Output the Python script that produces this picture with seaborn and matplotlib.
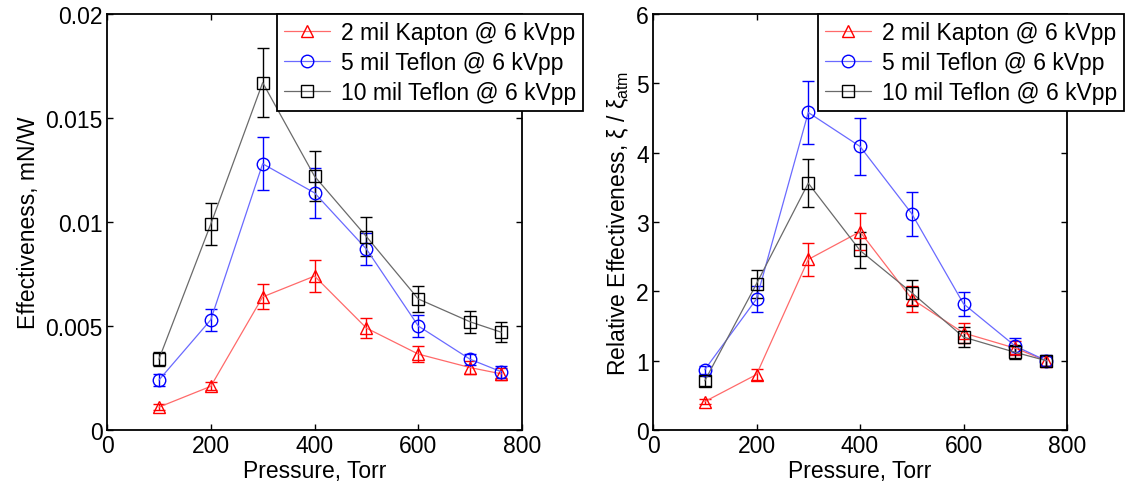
import numpy as np
import matplotlib
matplotlib.use("Agg")
import matplotlib.pyplot as plt
import seaborn as sns

pressure = [100, 200, 300, 400, 500, 600, 700, 760]
labels = ["2 mil Kapton @ 6 kVpp", "5 mil Teflon @ 6 kVpp", "10 mil Teflon @ 6 kVpp"]

# effectiveness, mN/W
kapton_eff = [0.0011, 0.0021, 0.0064, 0.0074, 0.0049, 0.00365, 0.0030, 0.0027]
kapton_err = [0.00015, 0.0002, 0.0006, 0.00075, 0.0005, 0.0004, 0.0003, 0.0003]
teflon5_eff = [0.0024, 0.0053, 0.0128, 0.0114, 0.0087, 0.0050, 0.0034, 0.0028]
teflon5_err = [0.0003, 0.00054, 0.00127, 0.0012, 0.00078, 0.00054, 0.00027, 0.00028]
teflon10_eff = [0.0034, 0.0099, 0.0167, 0.0122, 0.0093, 0.0063, 0.0052, 0.0047]
teflon10_err = [0.00034, 0.001, 0.00167, 0.0012, 0.00092, 0.00063, 0.00052, 0.00048]

# relative effectiveness
kapton_rel = [0.41, 0.80, 2.46, 2.86, 1.89, 1.40, 1.18, 1.0]
kapton_rel_err = [0.04, 0.08, 0.24, 0.27, 0.19, 0.14, 0.1, 0.07]
teflon5_rel = [0.87, 1.89, 4.58, 4.09, 3.12, 1.82, 1.21, 1.0]
teflon5_rel_err = [0.06, 0.19, 0.46, 0.41, 0.32, 0.17, 0.11, 0.08]
teflon10_rel = [0.71, 2.11, 3.56, 2.59, 1.98, 1.34, 1.12, 1.0]
teflon10_rel_err = [0.07, 0.2, 0.35, 0.26, 0.19, 0.14, 0.1, 0.07]

left_yticks = [0, 0.005, 0.01, 0.015, 0.02]
left_yticklabels = ["0", "0.005", "0.01", "0.015", "0.02"]
right_yticks = [0, 1, 2, 3, 4, 5, 6]
xticks = [0, 200, 400, 600, 800]

colors = ["#ff0000", "#0000ff", "#000000"]
line_colors = ["#ff6a6a", "#6a6aff", "#6a6a6a"]
markers = ["^", "o", "s"]

sns.set_style("ticks")
plt.rcParams["font.family"] = ["Liberation Sans", "DejaVu Sans"]
plt.rcParams["mathtext.fontset"] = "custom"
plt.rcParams["mathtext.rm"] = "Liberation Sans"
plt.rcParams["mathtext.it"] = "Liberation Sans:italic"
for key in ["text.color", "axes.labelcolor", "xtick.color", "ytick.color",
            "axes.edgecolor"]:
    plt.rcParams[key] = "black"
fs = 16.5

fig = plt.figure(figsize=(11.29, 4.89), dpi=100)
ax1 = fig.add_axes([0.0948, 0.1186, 0.3676, 0.8507])
ax2 = fig.add_axes([0.5784, 0.1186, 0.3667, 0.8507])


def draw(ax, series, errs, ymax, yticks, yticklabels, ylabel, leg_x):
    for vals, err, c, lc, m, lab in zip(series, errs, colors, line_colors,
                                        markers, labels):
        ax.errorbar(pressure, vals, yerr=err, fmt="none", ecolor=c,
                    elinewidth=1.0, capsize=4, capthick=1.0, zorder=2)
        sns.lineplot(x=pressure, y=vals, ax=ax, color=lc, lw=0.9,
                     marker=m, markersize=9, markerfacecolor="none",
                     markeredgecolor=c, markeredgewidth=1.0, label=lab,
                     zorder=3)
    ax.set_xlim(0, 800)
    ax.set_ylim(0, ymax)
    ax.set_xticks(xticks)
    ax.set_yticks(yticks)
    ax.set_yticklabels(yticklabels)
    ax.tick_params(direction="in", top=True, right=True, labelsize=fs,
                   length=4, width=1.0, pad=3)
    for s in ax.spines.values():
        s.set_linewidth(1.3)
        s.set_visible(True)
    ax.set_xlabel("Pressure, Torr", fontsize=fs, labelpad=1)
    ax.set_ylabel(ylabel, fontsize=fs, labelpad=4)
    leg = ax.legend(loc="upper left", bbox_to_anchor=(leg_x, 1.0),
                    borderaxespad=0, fontsize=fs, frameon=True, fancybox=False,
                    edgecolor="black", framealpha=1, handlelength=2.0,
                    labelspacing=0.3, borderpad=0.3, handletextpad=0.5)
    leg.get_frame().set_linewidth(1.3)


draw(ax1, [kapton_eff, teflon5_eff, teflon10_eff],
     [kapton_err, teflon5_err, teflon10_err], 0.02, left_yticks,
     left_yticklabels, "Effectiveness, mN/W", 0.41)
draw(ax2, [kapton_rel, teflon5_rel, teflon10_rel],
     [kapton_rel_err, teflon5_rel_err, teflon10_rel_err], 6, right_yticks,
     [str(t) for t in right_yticks],
     r"Relative Effectiveness, $\mathrm{\xi}$ / $\mathrm{\xi_{atm}}$", 0.399)

fig.savefig("out.png", dpi=100, facecolor="white")
